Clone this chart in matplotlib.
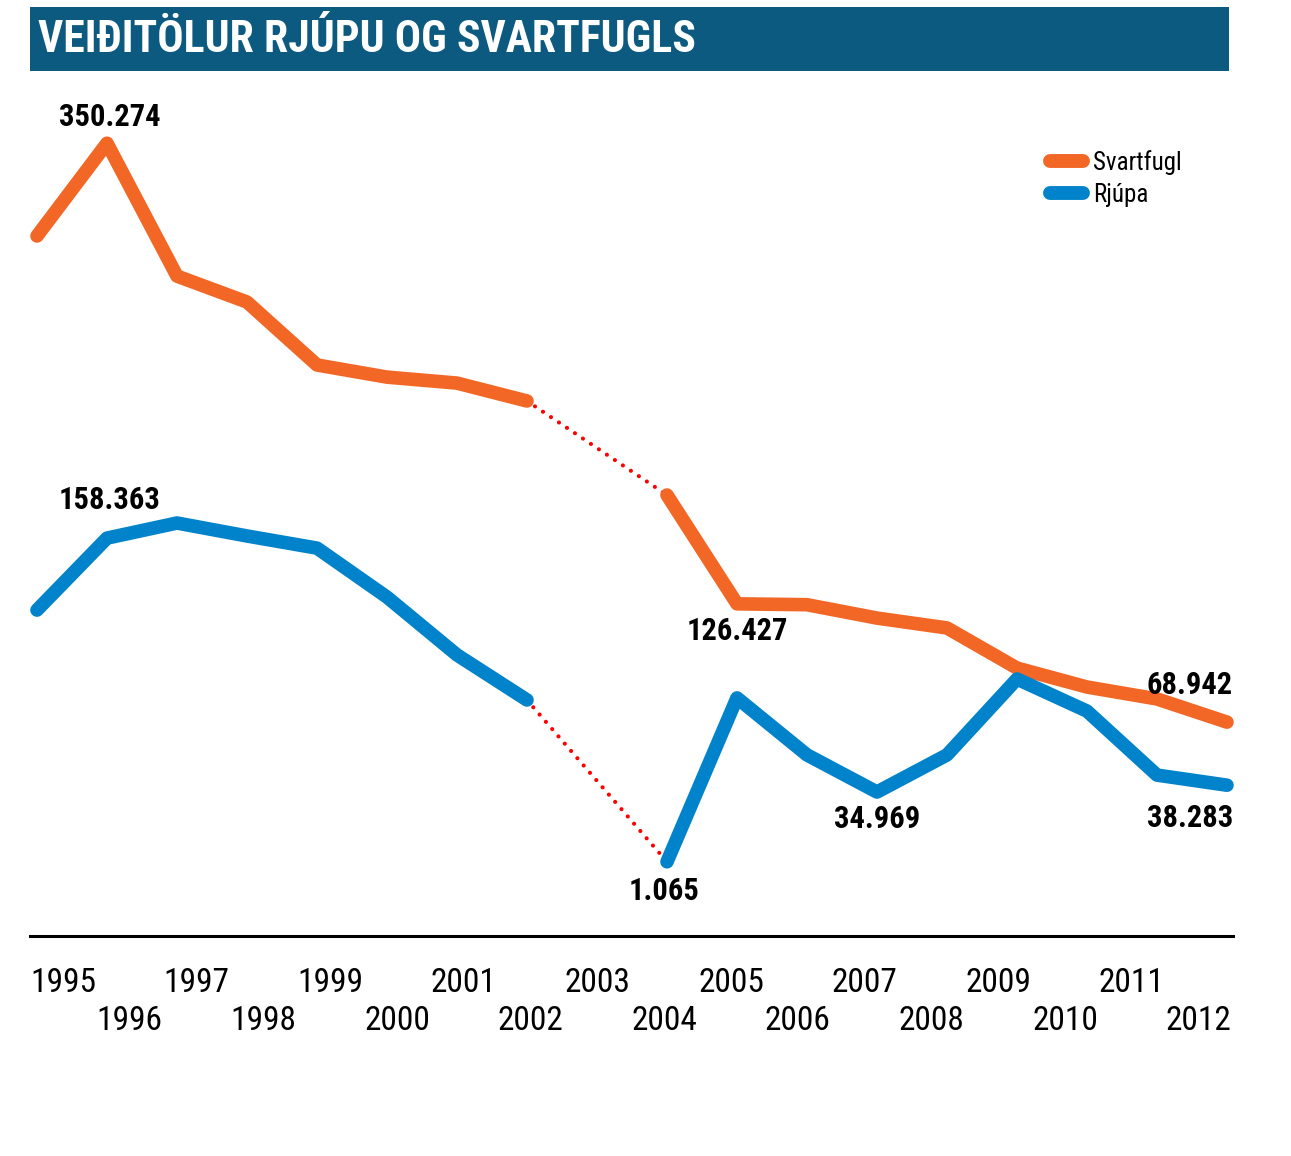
import matplotlib
matplotlib.use('Agg')
import matplotlib.pyplot as plt
import numpy as np
from matplotlib.patches import Rectangle

# --- data ---
years = list(range(1995, 2013))
svartfugl = [305200, 350274, 285700, 273100, 242500, 236600, 233700, 225000, np.nan,
             179300, 126427, 126000, 119500, 114700, 95200, 86000, 80200, 68942]
rjupa = [123400, 158363, 165700, 159400, 153500, 129700, 101600, 79700, np.nan,
         1065, 80700, 53000, 34969, 53000, 89900, 74300, 43200, 38283]
series_names = ['Svartfugl', 'Rjúpa']
title = 'VEIÐITÖLUR RJÚPU OG SVARTFUGLS'

# which values get a number printed, with offset in pixels from the point
callouts = [(0, 1996, (3, 26)), (1, 1996, (3, 38)), (0, 2005, (0, -27)),
            (1, 2004, (-3, -29)), (1, 2007, (0, -27)), (0, 2012, (-37, 37)),
            (1, 2012, (-37, -33))]

C_ORANGE = '#F26726'
C_BLUE = '#0083CA'
C_BANNER = '#0C5A80'
C_GAP = '#FF0000'
NARROW = ['Roboto Condensed', 'Liberation Sans Narrow', 'Roboto', 'DejaVu Sans']

fig = plt.figure(figsize=(12.91, 11.56), dpi=100)
fig.patch.set_facecolor('white')

# title banner
fig.patches.append(Rectangle((30/1291, 1-71/1156), 1199/1291, 64/1156,
                             transform=fig.transFigure, facecolor=C_BANNER, edgecolor='none'))
fig.text(38/1291, 1-40/1156, title, color='white', fontsize=31.5, fontweight='bold',
         family=NARROW, ha='left', va='center')

ax = fig.add_axes([30/1291, 1-936/1156, 1203/1291, (936-80)/1156])
ax.set_xlim(1994.9, 2012.086)
ax.set_ylim(-35000, 381000)
for s in ['top', 'left', 'right']:
    ax.spines[s].set_visible(False)
ax.spines['bottom'].set_linewidth(2.2)
ax.set_yticks([])

data = [svartfugl, rjupa]
colors = [C_ORANGE, C_BLUE]
for vals, c, name in zip(data, colors, series_names):
    ax.plot(years, vals, color=c, lw=9.8, solid_capstyle='round', solid_joinstyle='round',
            label=name, clip_on=False, zorder=3)
    # dotted bridge across the missing year
    v = np.array(vals, dtype=float)
    gap = np.where(np.isnan(v))[0]
    for g in gap:
        ax.plot([years[g-1], years[g+1]], [v[g-1], v[g+1]], color=C_GAP, lw=3.0,
                linestyle=(0, (0.01, 2.3)), dash_capstyle='round', zorder=2, clip_on=False)

for si, yr, off in callouts:
    val = data[si][years.index(yr)]
    ax.annotate(f'{int(val):,}'.replace(',', '.'), xy=(yr, val), xytext=off,
                textcoords='offset pixels', ha='center', va='center', fontsize=22,
                fontweight='bold', family=NARROW, color='black', zorder=5)

# year labels, staggered in two rows (odd years on top, even years below)
lab_pos = [1995 + 0.371 + 0.9543*(y - 1995) for y in years]
ax.set_xticks(lab_pos[0::2])
ax.set_xticklabels([str(y) for y in years[0::2]], fontsize=24, family=NARROW)
ax.set_xticks(lab_pos[1::2], minor=True)
ax.set_xticklabels([str(y) for y in years[1::2]], minor=True, fontsize=24, family=NARROW)
ax.tick_params(axis='x', which='major', length=0, pad=22)
ax.tick_params(axis='x', which='minor', length=0, pad=50)

leg = ax.legend(loc='upper left', bbox_to_anchor=(0.848, 0.918), frameon=False,
                borderpad=0, borderaxespad=0, handlelength=1.3, handletextpad=0.4,
                labelspacing=0.3, prop={'family': NARROW, 'size': 18})
for h in leg.get_lines():
    h.set_linewidth(10)
    h.set_solid_capstyle('round')

plt.savefig('out.png', dpi=100, facecolor='white')
